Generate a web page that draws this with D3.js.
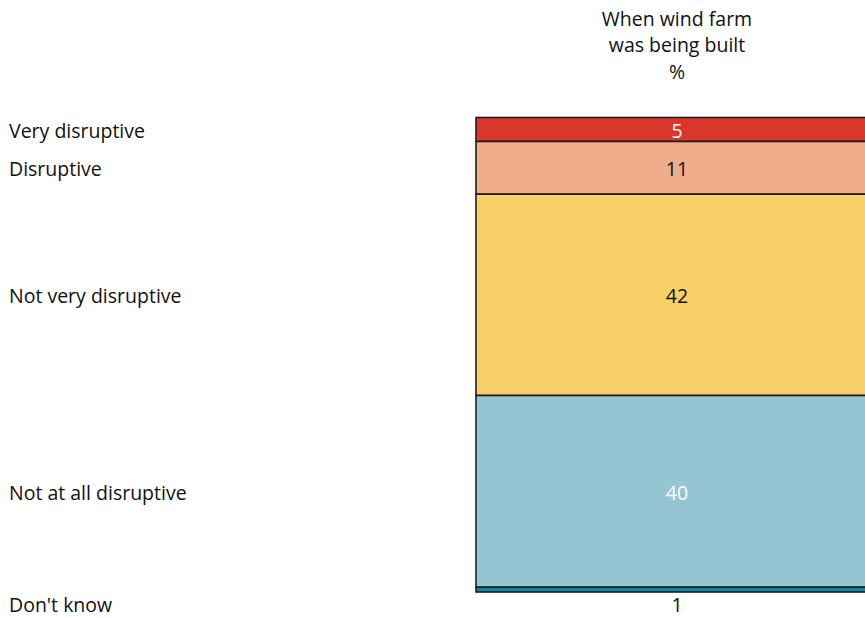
<!DOCTYPE html>
<html>
<head>
<meta charset="utf-8">
<script src="https://cdn.jsdelivr.net/npm/d3@7"></script>
<style>
  html, body { margin: 0; padding: 0; background: #fff; }
  svg { display: block; }
  text { font-family: "Open Sans", "Noto Sans", sans-serif; }
</style>
</head>
<body>
<svg id="chart" width="865" height="618"></svg>
<script>
// Responses, top to bottom of the stacked bar
const categories = ["Very disruptive", "Disruptive", "Not very disruptive", "Not at all disruptive", "Don't know"];
const values = [5, 11, 42, 40, 1];
const colors = ["#da362c", "#f0ad8c", "#f8d068", "#95c4d3", "#0a8aa0"];
const valueColors = ["#ffffff", "#111111", "#111111", "#ffffff", "#111111"];
const headerLines = ["When wind farm", "was being built", "%"];

const svg = d3.select("#chart");
const fontSize = 19.5;

// cumulative start/end for each segment
let acc = 0;
const segs = values.map((v, i) => {
  const s = { cat: categories[i], value: v, start: acc, end: acc + v, i };
  acc += v;
  return s;
});

const y = d3.scaleLinear().domain([0, acc]).range([117.5, 592]);
const x = d3.scaleBand().domain(["built"]).range([476, 878]);

const barX = x("built");
const barW = x.bandwidth();
const cx = barX + barW / 2;

// header
svg.append("g").selectAll("text")
  .data(headerLines)
  .join("text")
  .attr("x", cx)
  .attr("y", (d, i) => 19 + i * 26.5)
  .attr("dy", "0.35em")
  .attr("text-anchor", "middle")
  .attr("font-size", fontSize)
  .attr("fill", "#111")
  .text(d => d);

// bar segments
svg.append("g").selectAll("rect")
  .data(segs)
  .join("rect")
  .attr("x", barX)
  .attr("y", d => y(d.start))
  .attr("width", barW)
  .attr("height", d => y(d.end) - y(d.start))
  .attr("fill", (d, i) => colors[i])
  .attr("stroke", "#1e1e1e")
  .attr("stroke-width", 1.6);

// value labels: inside each segment, or below the bar when the segment is too thin
const thin = d => y(d.end) - y(d.start) < 14;
const labelY = d => thin(d) ? y(acc) + 13 : (y(d.start) + y(d.end)) / 2 + 1.5;

svg.append("g").selectAll("text")
  .data(segs)
  .join("text")
  .attr("x", cx)
  .attr("y", labelY)
  .attr("dy", "0.35em")
  .attr("text-anchor", "middle")
  .attr("font-size", fontSize)
  .attr("fill", (d, i) => thin(d) ? "#111" : valueColors[i])
  .text(d => d.value);

// category labels on the left
svg.append("g").selectAll("text")
  .data(segs)
  .join("text")
  .attr("x", 9)
  .attr("y", labelY)
  .attr("dy", "0.35em")
  .attr("font-size", fontSize)
  .attr("fill", "#111")
  .text(d => d.cat);
</script>
</body>
</html>
